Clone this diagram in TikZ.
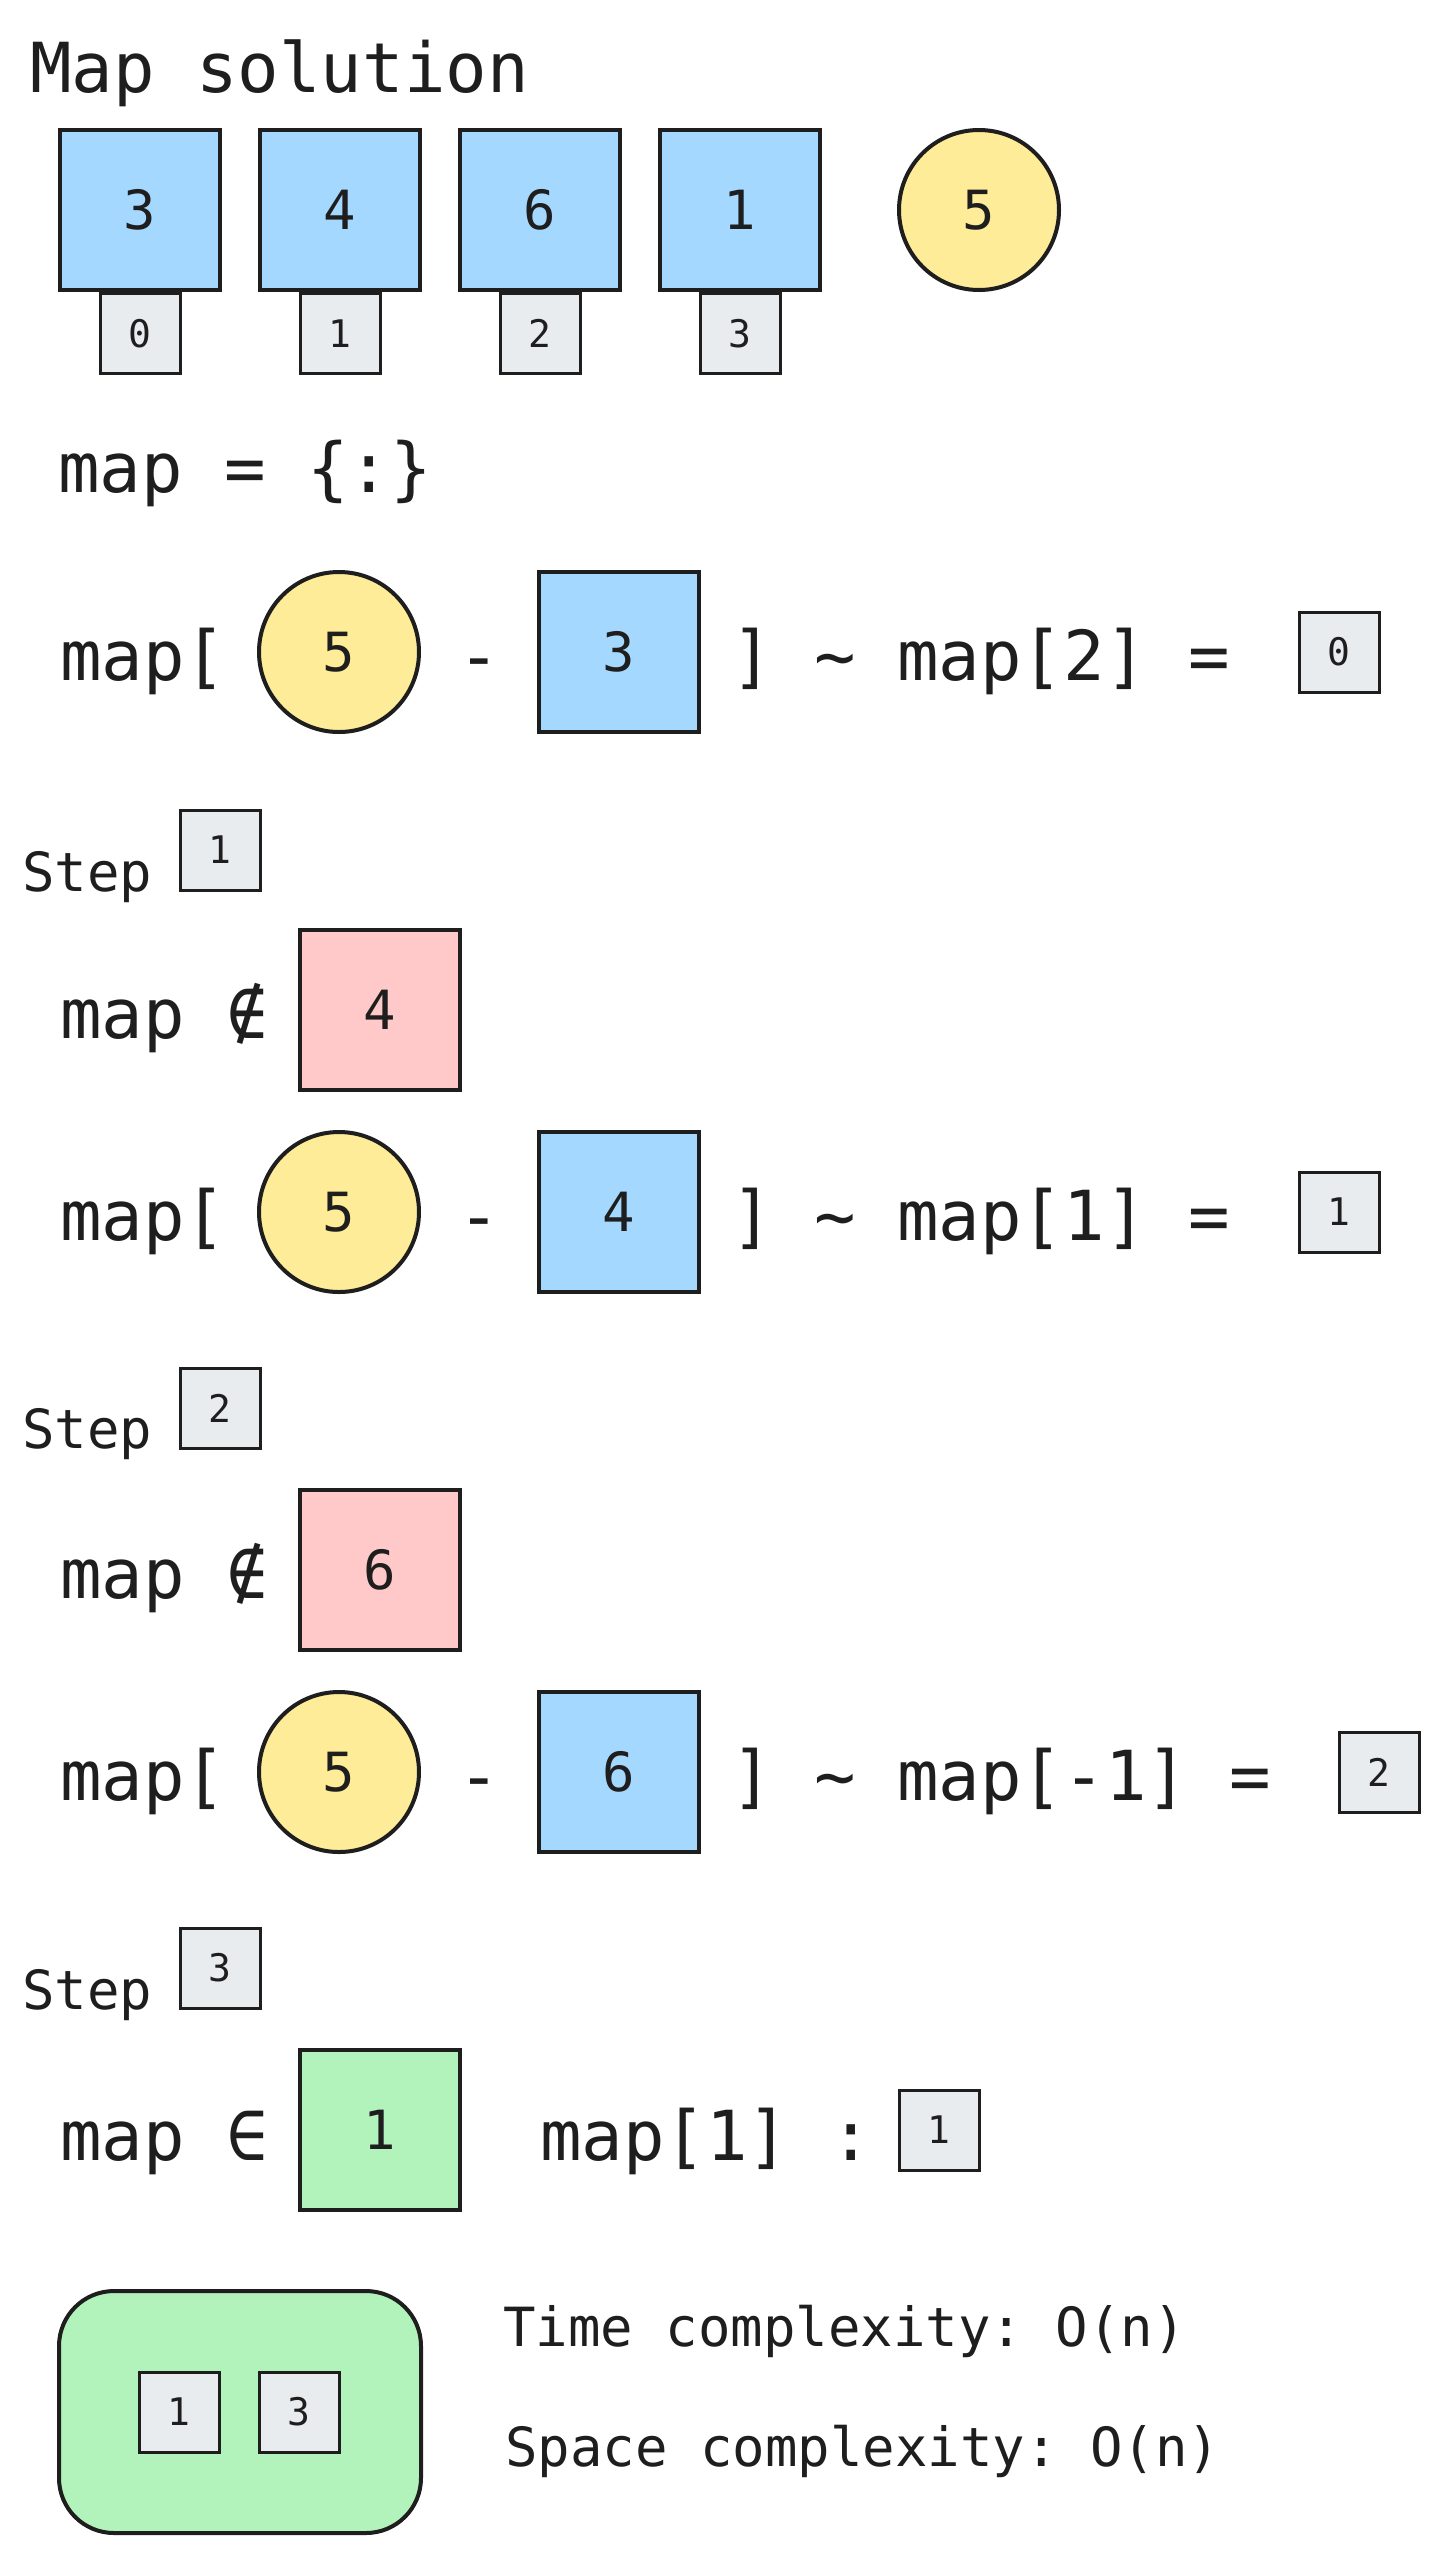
\documentclass[tikz,border=0pt]{standalone}
\usepackage{fontspec}
\setmonofont{DejaVu Sans Mono}
\usepackage{tikz}
\usetikzlibrary{shapes, positioning}

\definecolor{ink}{HTML}{1E1E1E}
\definecolor{cellblue}{HTML}{A5D8FF}
\definecolor{targetyellow}{HTML}{FFEC99}
\definecolor{missred}{HTML}{FFC9C9}
\definecolor{hitgreen}{HTML}{B2F2BB}
\definecolor{idxgray}{HTML}{E9ECEF}

\newcommand{\hugecode}{\ttfamily\fontsize{69}{76}\selectfont}
\newcommand{\midcode}{\ttfamily\fontsize{54}{60}\selectfont}
\newcommand{\tinycode}{\ttfamily\fontsize{38}{42}\selectfont}

\tikzstyle{cell} = [rectangle, draw=ink, line width=4pt, fill=cellblue,
    minimum size=160pt, inner sep=0pt, font=\midcode, text=ink]
\tikzstyle{miss} = [cell, fill=missred]
\tikzstyle{hit} = [cell, fill=hitgreen]
\tikzstyle{target} = [circle, draw=ink, line width=4pt, fill=targetyellow,
    minimum size=160pt, inner sep=0pt, font=\midcode, text=ink]
\tikzstyle{idx} = [rectangle, draw=ink, line width=3pt, fill=idxgray,
    minimum size=80pt, inner sep=0pt, font=\tinycode, text=ink]
\tikzstyle{code} = [anchor=base west, inner sep=0pt, font=\hugecode, text=ink]
\tikzstyle{note} = [anchor=base west, inner sep=0pt, font=\midcode, text=ink]
\tikzstyle{bucket} = [rectangle, draw=ink, line width=4pt, fill=hitgreen,
    rounded corners=55pt, minimum width=362pt, minimum height=242pt]

\begin{document}
\begin{tikzpicture}[x=1pt, y=-1pt]
        \useasboundingbox (0,0) rectangle (1440,2549);
        % Title and input
        \node [code] (title) at (30,92) {Map solution};
        \node [cell] (arr_0) at (140,210) {3};
        \node [cell] (arr_1) at (340,210) {4};
        \node [cell] (arr_2) at (540,210) {6};
        \node [cell] (arr_3) at (740,210) {1};
        \node [idx, below=0pt of arr_0] (idx_0) {0};
        \node [idx, below=0pt of arr_1] (idx_1) {1};
        \node [idx, below=0pt of arr_2] (idx_2) {2};
        \node [idx, below=0pt of arr_3] (idx_3) {3};
        \node [target] (goal) at (979,210) {5};
        \node [code] (map_init) at (58,492) {map = \{:\}};
        % First lookup
        \node [code] (look_0) at (60,680) {map[};
        \node [target] (goal_0) at (339,652) {5};
        \node [code, anchor=base] (minus_0) at (479,680) {-};
        \node [cell] (val_0) at (619,652) {3};
        \node [code] (rest_0) at (731,680) {] \textasciitilde{} map[2] =};
        \node [idx] (res_0) at (1339,652) {0};
        % Step 1
        \node [note] (step_1) at (22,891) {Step};
        \node [idx] (step_1_num) at (220,850) {1};
        \node [code] (check_1) at (60,1038) {map ∉};
        \node [miss] (check_1_val) at (380,1010) {4};
        \node [code] (look_1) at (60,1240) {map[};
        \node [target] (goal_1) at (339,1212) {5};
        \node [code, anchor=base] (minus_1) at (479,1240) {-};
        \node [cell] (val_1) at (619,1212) {4};
        \node [code] (rest_1) at (731,1240) {] \textasciitilde{} map[1] =};
        \node [idx] (res_1) at (1339,1212) {1};
        % Step 2
        \node [note] (step_2) at (22,1448) {Step};
        \node [idx] (step_2_num) at (220,1408) {2};
        \node [code] (check_2) at (60,1598) {map ∉};
        \node [miss] (check_2_val) at (380,1570) {6};
        \node [code] (look_2) at (60,1800) {map[};
        \node [target] (goal_2) at (339,1772) {5};
        \node [code, anchor=base] (minus_2) at (479,1800) {-};
        \node [cell] (val_2) at (619,1772) {6};
        \node [code] (rest_2) at (731,1800) {] \textasciitilde{} map[-1] =};
        \node [idx] (res_2) at (1379,1772) {2};
        % Step 3
        \node [note] (step_3) at (22,2009) {Step};
        \node [idx] (step_3_num) at (220,1968) {3};
        \node [code] (check_3) at (60,2160) {map ∈};
        \node [hit] (check_3_val) at (380,2130) {1};
        \node [code] (found) at (540,2160) {map[1] :};
        \node [idx] (found_idx) at (939,2130) {1};
        % Answer and complexity
        \node [bucket] (answer) at (240,2412) {};
        \node [idx] (answer_0) at (179,2412) {1};
        \node [idx] (answer_1) at (299,2412) {3};
        \node [note] (time_info) at (503,2346) {Time complexity: O(n)};
        \node [note] (space_info) at (505,2466) {Space complexity: O(n)};
    \end{tikzpicture}
\end{document}
